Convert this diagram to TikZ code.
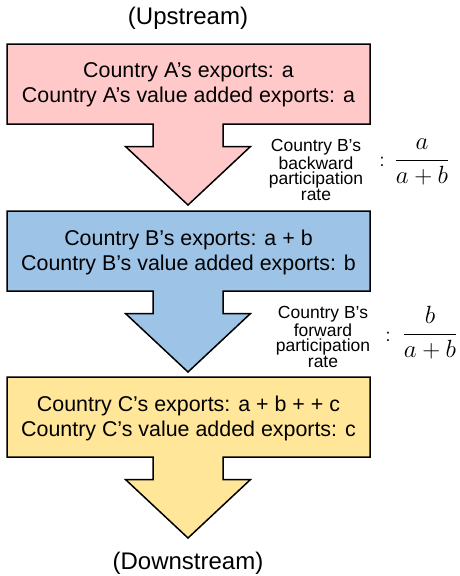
\documentclass[tikz,border=0pt]{standalone}
\usepackage{fontspec}
\setmainfont{Liberation Sans}
\usetikzlibrary{positioning}
\definecolor{upPink}{RGB}{255,201,201}
\definecolor{midBlue}{RGB}{157,195,230}
\definecolor{downGold}{RGB}{255,230,153}
\tikzset{
  flowblock/.style={draw=black, line width=1.5pt, line join=miter},
  boxtext/.style={align=center, inner sep=0pt, font=\fontsize{21.4}{25}\selectfont},
  ratelabel/.style={align=center, inner sep=0pt, font=\fontsize{17.5}{15.5}\selectfont},
  endlabel/.style={inner sep=0pt, font=\fontsize{24}{28}\selectfont},
  ratefrac/.style={inner sep=0pt, anchor=base, font=\fontsize{27}{31}\selectfont}
}

\begin{document}
\begin{tikzpicture}[x=1pt, y=-1pt]
  \useasboundingbox (0,0) rectangle (459,576);
  \foreach \ytop/\fillcol in {44/upPink, 211/midBlue, 377/downGold}{
    \draw[flowblock, fill=\fillcol] (7,\ytop) -- (370,\ytop) -- (370,\ytop+80)
      -- (223,\ytop+80) -- (223,\ytop+102.5) -- (250.5,\ytop+102.5) -- (188,\ytop+161)
      -- (125.5,\ytop+102.5) -- (153,\ytop+102.5) -- (153,\ytop+80) -- (7,\ytop+80) -- cycle;
  }
  \node[endlabel] (up) at (188,18) {(Upstream)};
  \node[boxtext] (txtA) at (188.5,84.5) {Country A’s exports: a\\Country A’s value added exports: a};
  \node[boxtext] (txtB) at (188.5,252) {Country B’s exports: a + b\\Country B’s value added exports: b};
  \node[boxtext] (txtC) at (188.5,418) {Country C’s exports: a + b + + c\\Country C’s value added exports: c};
  \node[endlabel] (down) at (188,563) {(Downstream)};
  \node[ratelabel] (back) at (316,170) {Country B’s\\backward\\participation\\rate};
  \node[ratelabel] (backcolon) at (382,162) {:};
  \node[ratefrac] (backrate) at (422,166) {$\displaystyle\frac{a}{a+b}$};
  \node[ratelabel] (fwd) at (323,337) {Country B’s\\forward\\participation\\rate};
  \node[ratelabel] (fwdcolon) at (388,337) {:};
  \node[ratefrac] (fwdrate) at (430,340) {$\displaystyle\frac{b}{a+b}$};
\end{tikzpicture}
\end{document}
